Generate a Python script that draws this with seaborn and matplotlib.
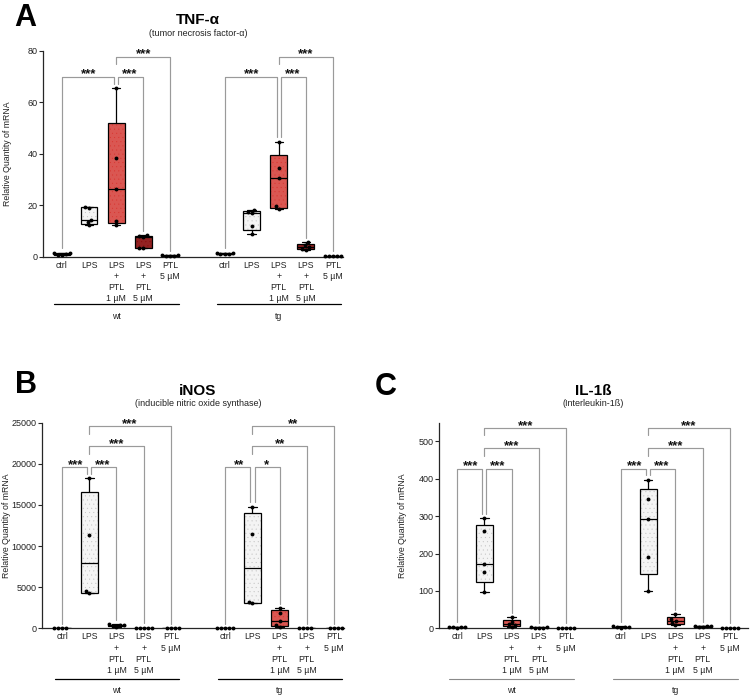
import numpy as np
import pandas as pd
import matplotlib
matplotlib.use("Agg")
import matplotlib.pyplot as plt
import matplotlib.cbook
import matplotlib.colors as mcolors
import matplotlib.transforms as mtransforms
import seaborn as sns

# ---------------- data ----------------
treatments = ["ctrl", "LPS", "LPS+PTL 1 µM", "LPS+PTL 5 µM", "PTL 5 µM"]
tick_labels = ["ctrl", "LPS", "LPS\n+\nPTL\n1 µM", "LPS\n+\nPTL\n5 µM", "PTL\n5 µM"]
genotypes = ["wt", "tg"]

# TNF-alpha
tnf_wt = [[0.5, 0.7, 1.0, 1.3, 1.6],
          [12.2, 13.6, 14.4, 18.8, 19.5],
          [12.2, 13.8, 26.5, 38.2, 65.5],
          [3.3, 3.5, 7.6, 8.0, 8.4],
          [0.2, 0.3, 0.4, 0.5, 0.6]]
tnf_tg = [[0.9, 1.0, 1.2, 1.4, 1.5],
          [8.8, 11.8, 16.9, 17.3, 18.2],
          [18.4, 19.6, 30.5, 34.4, 44.7],
          [2.7, 3.0, 3.8, 4.6, 5.6],
          [0.15, 0.2, 0.25, 0.3, 0.35]]
# iNOS
inos_wt = [[8, 10, 12, 15],
           [4250, 4500, 11400, 18250],
           [180, 300, 350, 420, 480],
           [20, 30, 40, 50, 60],
           [5, 8, 10, 12]]
inos_tg = [[8, 10, 12, 14, 16],
           [3050, 3250, 11450, 14800],
           [200, 420, 850, 1900, 2450],
           [10, 15, 20, 25],
           [5, 8, 10, 12]]
# IL-1beta
il1b_wt = [[1.5, 2.5, 3.0, 3.5, 4.5],
           [96, 150, 171, 260, 294],
           [4, 8, 11, 17, 30],
           [1.0, 1.5, 2.0, 2.5, 3.0],
           [0.5, 1.0, 1.0, 1.5, 2.0]]
il1b_tg = [[2.0, 3.0, 3.5, 4.0, 5.0],
           [100, 190, 292, 347, 397],
           [8, 15, 20, 25, 37],
           [3.0, 4.0, 5.0, 5.5, 6.0],
           [0.3, 0.5, 0.6, 0.8, 1.0]]

# significance brackets: (genotype, from-index, to-index, height, label)
tnf_brackets = [("wt", 0, 2, 70, "***"), ("wt", 2, 3, 70, "***"), ("wt", 2, 4, 77.8, "***"),
                ("tg", 0, 2, 70, "***"), ("tg", 2, 3, 70, "***"), ("tg", 2, 4, 77.8, "***")]
inos_brackets = [("wt", 0, 1, 19600, "***"), ("wt", 1, 2, 19600, "***"),
                 ("wt", 1, 3, 22100, "***"), ("wt", 1, 4, 24600, "***"),
                 ("tg", 0, 1, 19600, "**"), ("tg", 1, 2, 19600, "*"),
                 ("tg", 1, 3, 22100, "**"), ("tg", 1, 4, 24600, "**")]
il1b_brackets = [("wt", 0, 1, 427, "***"), ("wt", 1, 2, 427, "***"),
                 ("wt", 1, 3, 482, "***"), ("wt", 1, 4, 535, "***"),
                 ("tg", 0, 1, 427, "***"), ("tg", 1, 2, 427, "***"),
                 ("tg", 1, 3, 482, "***"), ("tg", 1, 4, 535, "***")]

titles = ["TNF-α", "iNOS", "IL-1ß"]
subtitles = ["(tumor necrosis factor-α)", "(inducible nitric oxide synthase)", "(Interleukin-1ß)"]
panel_letters = ["A", "B", "C"]
y_label = "Relative Quantity of mRNA"
tnf_yticks = [0, 20, 40, 60, 80]
inos_yticks = [0, 5000, 10000, 15000, 20000, 25000]
il1b_yticks = [0, 100, 200, 300, 400, 500]

# ---------------- styles ----------------
box_fill = {"ctrl": "#f4f4f4", "LPS": "#f4f4f4", "LPS+PTL 1 µM": "#f0423c",
            "LPS+PTL 5 µM": "#a50f0f", "PTL 5 µM": "#f4f4f4"}
box_dots = {"ctrl": "#c0c0c0", "LPS": "#c0c0c0", "LPS+PTL 1 µM": "#d93530",
            "LPS+PTL 5 µM": "#860909", "PTL 5 µM": "#c0c0c0"}

# GraphPad-style box statistics (quartiles with (n+1) method, whiskers min-max)
_orig_stats = matplotlib.cbook.boxplot_stats


def prism_box_stats(X, whis=1.5, bootstrap=None, labels=None, autorange=False):
    stats = _orig_stats(X, whis=(0, 100), bootstrap=bootstrap, labels=labels,
                        autorange=autorange)
    for st, x in zip(stats, X):
        x = np.asarray(x, float)
        q1, med, q3 = np.percentile(x, [25, 50, 75], method="weibull")
        st["q1"], st["med"], st["q3"] = q1, med, q3
    return stats


matplotlib.cbook.boxplot_stats = prism_box_stats

sns.set_theme(style="ticks")
plt.rcParams["font.family"] = ["Liberation Sans", "DejaVu Sans"]
plt.rcParams["hatch.linewidth"] = 0.2
plt.rcParams["axes.linewidth"] = 0.9

TXT = "#222222"
GAP = " "
order = [f"wt | {t}" for t in treatments] + [GAP] + [f"tg | {t}" for t in treatments]


def pos(g, i):
    return order.index(f"{g} | {treatments[i]}")


fig = plt.figure(figsize=(7.5, 6.96), dpi=100)
H = 205.7 / 696
axA = fig.add_axes([43 / 750, (696 - 256.7) / 696, 300 / 750, H])
axB = fig.add_axes([42 / 750, (696 - 628.3) / 696, 302 / 750, H])
axC = fig.add_axes([439 / 750, (696 - 628.3) / 696, 309 / 750, H])

panels = [
    dict(ax=axA, wt=tnf_wt, tg=tnf_tg, br=tnf_brackets, yt=tnf_yticks, ylim=80,
         xlim=(-0.7, 10.37), line_y=-0.231, lab_y=-0.293, gcolor="black", glw=0.9,
         title_x=198, title_y=23.5, sub_y=33.5, letter_x=25, letter_y=26),
    dict(ax=axB, wt=inos_wt, tg=inos_tg, br=inos_brackets, yt=inos_yticks, ylim=25000,
         xlim=(-0.74, 10.37), line_y=-0.248, lab_y=-0.30, gcolor="black", glw=0.9,
         title_x=198, title_y=395, sub_y=403.5, letter_x=26, letter_y=393),
    dict(ax=axC, wt=il1b_wt, tg=il1b_tg, br=il1b_brackets, yt=il1b_yticks, ylim=550,
         xlim=(-0.66, 10.66), line_y=-0.248, lab_y=-0.30, gcolor="#8a8a8a", glw=0.8,
         title_x=593, title_y=395, sub_y=403.5, letter_x=386, letter_y=395),
]

for k, P in enumerate(panels):
    ax = P["ax"]
    groups = {"wt": P["wt"], "tg": P["tg"]}
    rows = []
    for g in genotypes:
        for t, vals in zip(treatments, groups[g]):
            for v in vals:
                rows.append((f"{g} | {t}", t, v))
    df = pd.DataFrame(rows, columns=["cat", "treatment", "value"])
    palette = {f"{g} | {t}": box_fill[t] for g in genotypes for t in treatments}

    sns.boxplot(data=df, x="cat", y="value", order=order, hue="cat", palette=palette,
                legend=False, width=0.62, whis=(0, 100), linecolor="black",
                linewidth=0.9, showfliers=False, ax=ax)
    for p in ax.patches:
        ext = p.get_path().get_extents()
        idx = int(round((ext.x0 + ext.x1) / 2))
        t = order[idx].split(" | ")[1]
        p.set_hatch("....")
        hc = mcolors.to_rgba(box_dots[t])
        if hasattr(p, "set_hatchcolor"):
            p.set_hatchcolor(hc)
        else:
            p._hatch_color = hc
    n_before = len(ax.collections)
    sns.swarmplot(data=df, x="cat", y="value", order=order, color="black", size=2.8,
                  linewidth=0, ax=ax, zorder=5)
    for c in ax.collections[n_before:]:
        c.set_clip_on(False)

    ymax = P["ylim"]
    ax.set_ylim(0, ymax)
    ax.set_xlim(*P["xlim"])
    ax.set_yticks(P["yt"])
    ax.set_yticklabels([str(v) for v in P["yt"]])
    xt = [i for i, c in enumerate(order) if c != GAP]
    ax.set_xticks(xt)
    ax.set_xticklabels(tick_labels * 2, linespacing=1.3)
    ax.tick_params(axis="x", length=0, labelsize=6.3, pad=3, labelcolor=TXT)
    ax.tick_params(axis="y", length=3, width=0.8, labelsize=6.5, pad=1, labelcolor=TXT)
    ax.set_xlabel("")
    ax.set_ylabel(y_label, fontsize=6.3, color=TXT)
    ax.yaxis.set_label_coords(-0.104, 0.5)
    sns.despine(ax=ax)

    # significance brackets
    gap = 0.022 * ymax
    room = 0.04 * ymax
    br = P["br"]
    for b in br:
        g, i, j, h, lab = b
        xs, bots = [], []
        for end, side in ((i, 1), (j, -1)):
            x = pos(g, end)
            obst = max(groups[g][end]) + gap
            for b2 in br:
                if b2[0] == g and b2[3] < h and b2[1] <= end <= b2[2]:
                    obst = max(obst, b2[3] + room + gap)
            for b2 in br:
                if b2 is not b and b2[0] == g and b2[3] == h and end in (b2[1], b2[2]):
                    x = x + side * 0.08
            xs.append(x)
            bots.append(obst)
        ax.plot([xs[0], xs[0], xs[1], xs[1]], [bots[0], h, h, bots[1]],
                color="#9a9a9a", lw=0.85, clip_on=False, zorder=3)
        ax.annotate(lab, xy=((pos(g, i) + pos(g, j)) / 2, h), xytext=(0, -0.6),
                    textcoords="offset points", ha="center", va="baseline",
                    fontsize=9.5, fontweight="bold", color="#111111",
                    annotation_clip=False)

    # genotype group lines
    trans = mtransforms.blended_transform_factory(ax.transData, ax.transAxes)
    for g in genotypes:
        x0, x1 = pos(g, 0) - 0.28, pos(g, 4) + 0.3
        ax.plot([x0, x1], [P["line_y"], P["line_y"]], transform=trans, clip_on=False,
                color=P["gcolor"], lw=P["glw"])
        ax.text(pos(g, 2), P["lab_y"], g, transform=trans, ha="center", va="center",
                fontsize=6.3, color=TXT)

    # titles and panel letters
    fig.text(P["title_x"] / 750, 1 - P["title_y"] / 696, titles[k], ha="center",
             va="baseline", fontsize=11, fontweight="bold", color="black")
    fig.text(P["title_x"] / 750, 1 - P["sub_y"] / 696, subtitles[k], ha="center",
             va="center", fontsize=6.5, color=TXT)
    fig.text(P["letter_x"] / 750, 1 - P["letter_y"] / 696, panel_letters[k],
             ha="center", va="baseline", fontsize=22, fontweight="bold", color="black")

fig.savefig("out.png", dpi=100)
